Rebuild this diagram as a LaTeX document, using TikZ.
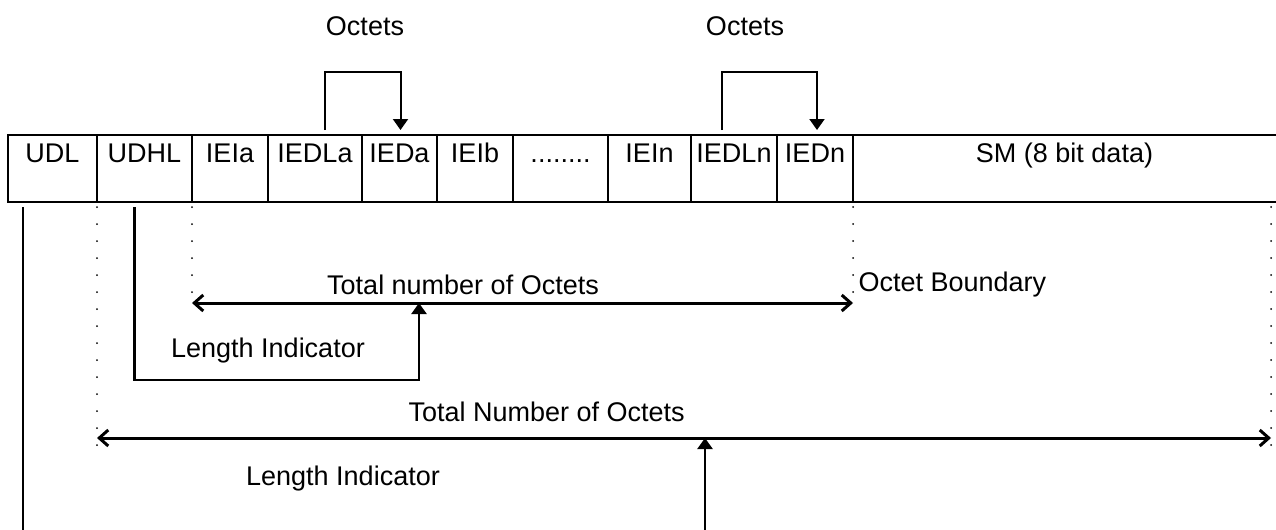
\documentclass[tikz,border=0pt]{standalone}
\usepackage{fontspec}
\setmainfont{Liberation Sans}
\usetikzlibrary{arrows.meta}

\begin{document}
\begin{tikzpicture}[
    x = 0.5pt, y = -0.5pt,
    font = \fontsize{13.5}{16}\selectfont,
    %
    cell/.style = {draw, line width = 1.4pt,
      anchor = north west,
      inner sep = 0pt, outer sep = 0pt,
      minimum height = 33.5pt,
      text height = 13.5pt, text depth = 20pt},
    %
    lead/.style = {line width = 1pt},
    pointer/.style = {line width = 1.2pt,
      -{Triangle[length = 5.5pt, width = 7.5pt]}},
    span/.style = {line width = 1.5pt,
      {Straight Barb[length = 4.5pt, width = 8pt]}-{Straight Barb[length = 4.5pt, width = 8pt]}},
    boundary/.style = {line width = 1pt, line cap = round,
      dash pattern = on 0pt off 8.5pt},
    ]

    \useasboundingbox (0, 0) rectangle (1276, 530);

    \node at (8, 135) [cell, minimum width = 44.5pt, name = UDL] {UDL};
    \node at (97, 135) [cell, minimum width = 47.5pt, name = UDHL] {UDHL};
    \node at (192, 135) [cell, minimum width = 38pt, name = IEIa] {IEIa};
    \node at (268, 135) [cell, minimum width = 47pt, name = IEDLa] {IEDLa};
    \node at (362, 135) [cell, minimum width = 37.5pt, name = IEDa] {IEDa};
    \node at (437, 135) [cell, minimum width = 38pt, name = IEIb] {IEIb};
    \node at (513, 135) [cell, minimum width = 47.5pt, name = dots] {........};
    \node at (608, 135) [cell, minimum width = 41.5pt, name = IEIn] {IEIn};
    \node at (691, 135) [cell, minimum width = 43pt, name = IEDLn] {IEDLn};
    \node at (777, 135) [cell, minimum width = 38pt, name = IEDn] {IEDn};
    \node at (853, 135) [cell, draw = none, minimum width = 211.5pt, name = SM]
    {SM (8 bit data)};

    \draw [line width = 1.4pt] (SM.north west) -- (SM.north east)
    (SM.south west) -- (SM.south east);

    % octets brackets
    \node at (365, 35) [anchor = base, name = oct_a] {Octets};
    \node at (745, 35) [anchor = base, name = oct_n] {Octets};

    \draw [pointer, line width = 1pt] ([shift = {(10, -5)}] IEDLa.north)
    -- ++(0, -58) -| ([shift = {(1, -5)}] IEDa.north);
    \draw [pointer, line width = 1pt] ([shift = {(-12, -5)}] IEDLn.north)
    -- ++(0, -58) -| ([shift = {(2, -5)}] IEDn.north);

    % boundaries below the header
    \coordinate (upper) at (0, 303);
    \coordinate (lower) at (0, 438);
    \coordinate (sm_edge) at ([shift = {(-5, 0)}] SM.south east);

    \draw [boundary] (UDL.south east) ++(0, 5) -- ++(0, 245);
    \draw [boundary] (UDHL.south east) ++(0, 5) -- ++(0, 90);
    \draw [boundary] (IEDn.south east) ++(0, 5) -- ++(0, 90);
    \draw [boundary] (sm_edge) ++(0, 5) -- ++(0, 245);

    \draw [span] (UDHL.south east |- upper)
    -- node [above, pos = 0.41] {Total number of Octets}
    (IEDn.south east |- upper)
    node [anchor = south west, inner sep = 2pt] {Octet Boundary};

    \draw [span] (UDL.south east |- lower)
    -- node [above = 4pt, pos = 0.383] {Total Number of Octets}
    (sm_edge |- lower);

    % length indicators
    \coordinate (hdr_len) at (419, 303);
    \draw [pointer] ([shift = {(-10, 5)}] UDHL.south) -- ++(0, 173) -| (hdr_len);
    \node at (268, 357) [anchor = base, name = len_hdr] {Length Indicator};

    \draw [lead] ([shift = {(-30, 5)}] UDL.south) -- ++(0, 325);

    \coordinate (msg_from) at (705, 532);
    \coordinate (msg_len) at (705, 438);
    \draw [pointer] (msg_from) -- (msg_len);
    \node at (343, 485) [anchor = base, name = len_msg] {Length Indicator};

  \end{tikzpicture}
\end{document}
